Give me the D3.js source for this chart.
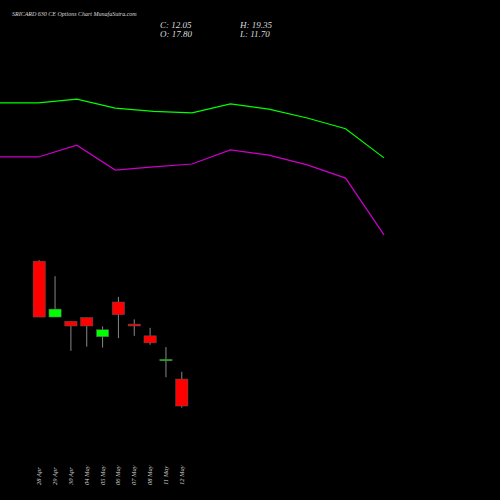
<!DOCTYPE html>
<html><head><meta charset="utf-8">
<script src="https://cdn.jsdelivr.net/npm/d3@7"></script>
<style>body{margin:0;background:#000}</style></head>
<body><svg id="chart" width="500" height="500"></svg>
<script>
const dates = ["28 Apr","29 Apr","30 Apr","04 May","05 May","06 May","07 May","08 May","11 May","12 May"];
const open  = [42.9, 31.0, 30.1, 30.9, 26.8, 34.2, 29.5, 27.0, 21.8, 17.80];
const close = [31.0, 32.7, 29.1, 29.1, 28.3, 31.5, 29.1, 25.5, 22.0, 12.05];
const high  = [43.1, 39.7, 30.1, 30.9, 29.0, 35.3, 30.5, 28.7, 24.6, 19.35];
const low   = [31.0, 31.0, 23.8, 24.7, 24.5, 26.5, 27.0, 25.1, 18.2, 11.70];
const upper = [76.6, 76.6, 77.4, 75.5, 74.8, 74.5, 76.4, 75.3, 73.4, 71.1, 64.9];
const lower = [65.1, 65.1, 67.6, 62.3, 63.0, 63.6, 66.6, 65.5, 63.4, 60.6, 48.5];

const svg = d3.select("#chart");
svg.append("rect").attr("width", 500).attr("height", 500).attr("fill", "#000");

const y = d3.scaleLinear().domain([0, 100]).range([462.6, -6.9]);
const x = d3.scaleBand().domain(dates).range([30, 190]).padding(0.1);
const xl = d3.scaleLinear().domain([0, 10]).range([0, 384]);

// bands
const line = d3.line().x((d, i) => xl(i)).y(d => y(d));
svg.append("path").attr("d", line(upper)).attr("fill", "none").attr("stroke", "#00ff00").attr("stroke-width", 1.2);
svg.append("path").attr("d", line(lower)).attr("fill", "none").attr("stroke", "#cc00cc").attr("stroke-width", 1.2);

// candles
const c = svg.append("g").selectAll("g").data(dates).enter().append("g");
c.append("line")
  .attr("x1", d => x(d) + x.bandwidth() / 2 + 0.5).attr("x2", d => x(d) + x.bandwidth() / 2 + 0.5)
  .attr("y1", (d, i) => y(high[i])).attr("y2", (d, i) => y(low[i]))
  .attr("stroke", "#888").attr("stroke-width", 1);
c.append("rect")
  .attr("x", d => x(d) + 1.5).attr("width", x.bandwidth() - 2)
  .attr("y", (d, i) => y(Math.max(open[i], close[i])))
  .attr("height", (d, i) => Math.max(1.5, Math.abs(y(open[i]) - y(close[i]))))
  .attr("fill", (d, i) => close[i] >= open[i] ? "#00ff00" : "#ff0000")
  .attr("stroke", "#555").attr("stroke-width", 0.5);

// date labels
svg.append("g").selectAll("text").data(dates).enter().append("text")
  .attr("transform", d => `translate(${x(d) + x.bandwidth() / 2 + 2.5},485) rotate(-90)`)
  .attr("fill", "#ccc").attr("font-family", "Liberation Serif").attr("font-style", "italic")
  .attr("font-size", 6.5).text(d => d);

// header text
const txt = (s, tx, ty, fs) => svg.append("text").attr("x", tx).attr("y", ty)
  .attr("fill", "#ddd").attr("font-family", "Liberation Serif").attr("font-style", "italic")
  .attr("font-size", fs).text(s);
txt("SRICARD 630  CE Options  Chart MunafaSutra.com", 12, 16, 6);
txt("C: 12.05", 160, 28, 9);
txt("O: 17.80", 160, 37, 9);
txt("H: 19.35", 240, 28, 9);
txt("L: 11.70", 240, 37, 9);
</script></body></html>
